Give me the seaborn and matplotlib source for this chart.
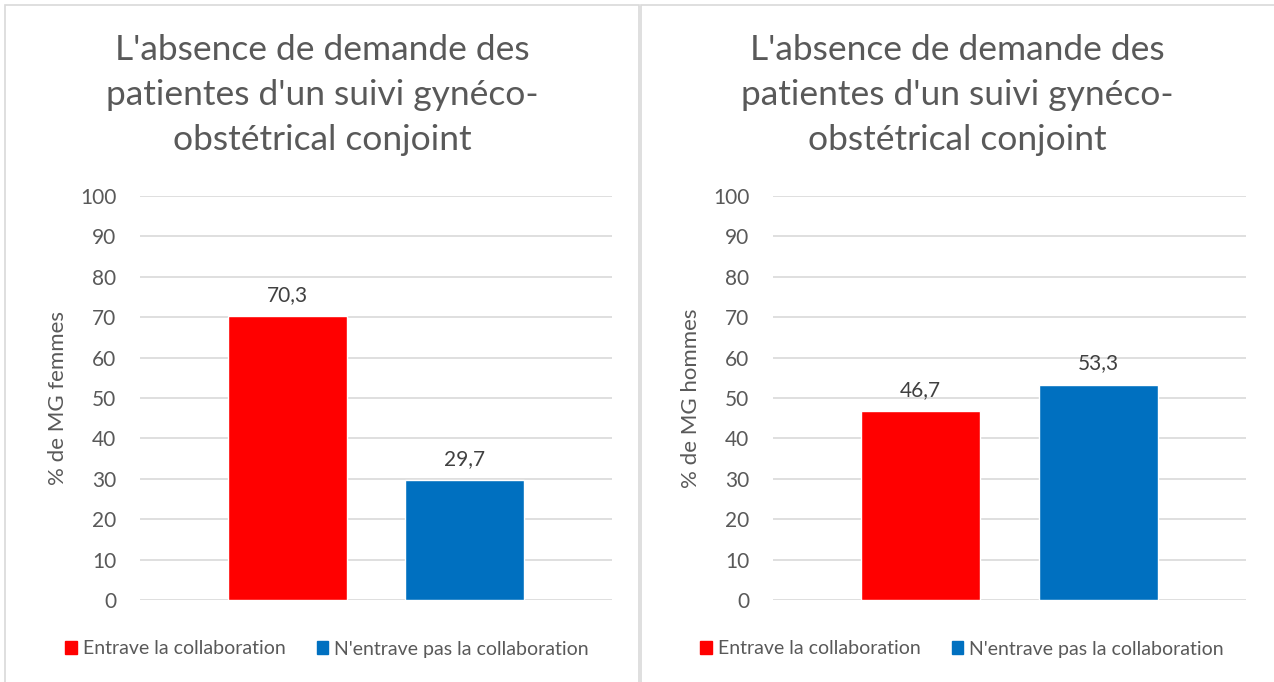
import seaborn as sns
import pandas as pd
import matplotlib.pyplot as plt
from matplotlib.patches import Rectangle

# data
series = ["Entrave la collaboration", "N'entrave pas la collaboration"]
femmes = [70.3, 29.7]
hommes = [46.7, 53.3]
title = "L'absence de demande des\npatientes d'un suivi gynéco-\nobstétrical conjoint"
ylabels = ["% de MG femmes", "% de MG hommes"]
yticks = list(range(0, 101, 10))

colors = ["#FF0000", "#0070C0"]
grey_txt = "#595959"

sns.set_style("white")
plt.rcParams['font.family'] = ['Lato', 'DejaVu Sans']

W, H = 1274, 682
fig = plt.figure(figsize=(W / 100, H / 100), dpi=100)

# panel borders
fig.patches.append(Rectangle((5 / W, -0.1), 634 / W, 1.1 - 5 / H, transform=fig.transFigure,
                             fill=False, edgecolor="#D9D9D9", lw=1.2))
fig.patches.append(Rectangle((641 / W, -0.1), 700 / W, 1.1 - 5 / H, transform=fig.transFigure,
                             fill=False, edgecolor="#D9D9D9", lw=1.2))

panels = [(140, 612, 327, femmes), (773, 1246, 962, hommes)]
for i, (x0, x1, cx, vals) in enumerate(panels):
    ax = fig.add_axes([x0 / W, 1 - 600 / H, (x1 - x0) / W, 404 / H])
    df = pd.DataFrame({"grp": ["g", "g"], "serie": series, "val": vals})
    sns.barplot(data=df, x="grp", y="val", hue="serie", palette=colors,
                width=0.75, gap=0.328, saturation=1, ax=ax)
    ax.set_ylim(0, 100)
    ax.set_xlim(-0.5, 0.5)
    ax.set_yticks(yticks)
    ax.set_xticks([])
    ax.set_xlabel("")
    ax.grid(axis="y", color="#D9D9D9", lw=1.2)
    ax.set_axisbelow(True)
    for s in ax.spines.values():
        s.set_visible(False)
    ax.tick_params(axis="y", length=0, pad=17, labelsize=15, labelcolor=grey_txt)
    ax.set_ylabel(ylabels[i], fontsize=16, color=grey_txt)
    ax.yaxis.set_label_coords(-0.153, 0.5)
    for c in ax.containers:
        ax.bar_label(c, labels=[f"{v:.1f}".replace(".", ",") for v in c.datavalues],
                     padding=8, fontsize=15, color="#404040")
    ax.get_legend().remove()
    handles = [Rectangle((0, 0), 1, 1, color=col) for col in colors]
    ax.legend(handles, series, loc="center", bbox_to_anchor=(cx / W, 1 - 649 / H),
              bbox_transform=fig.transFigure, ncol=2, frameon=False,
              handlelength=0.6, handleheight=0.6, handletextpad=0.3, columnspacing=1.6,
              fontsize=14, labelcolor=grey_txt)
    fig.text((cx - 5) / W, 1 - 95 / H, title, ha="center", va="center", fontsize=25.5,
             color=grey_txt, linespacing=1.49)

fig.savefig("out.png", dpi=100)
